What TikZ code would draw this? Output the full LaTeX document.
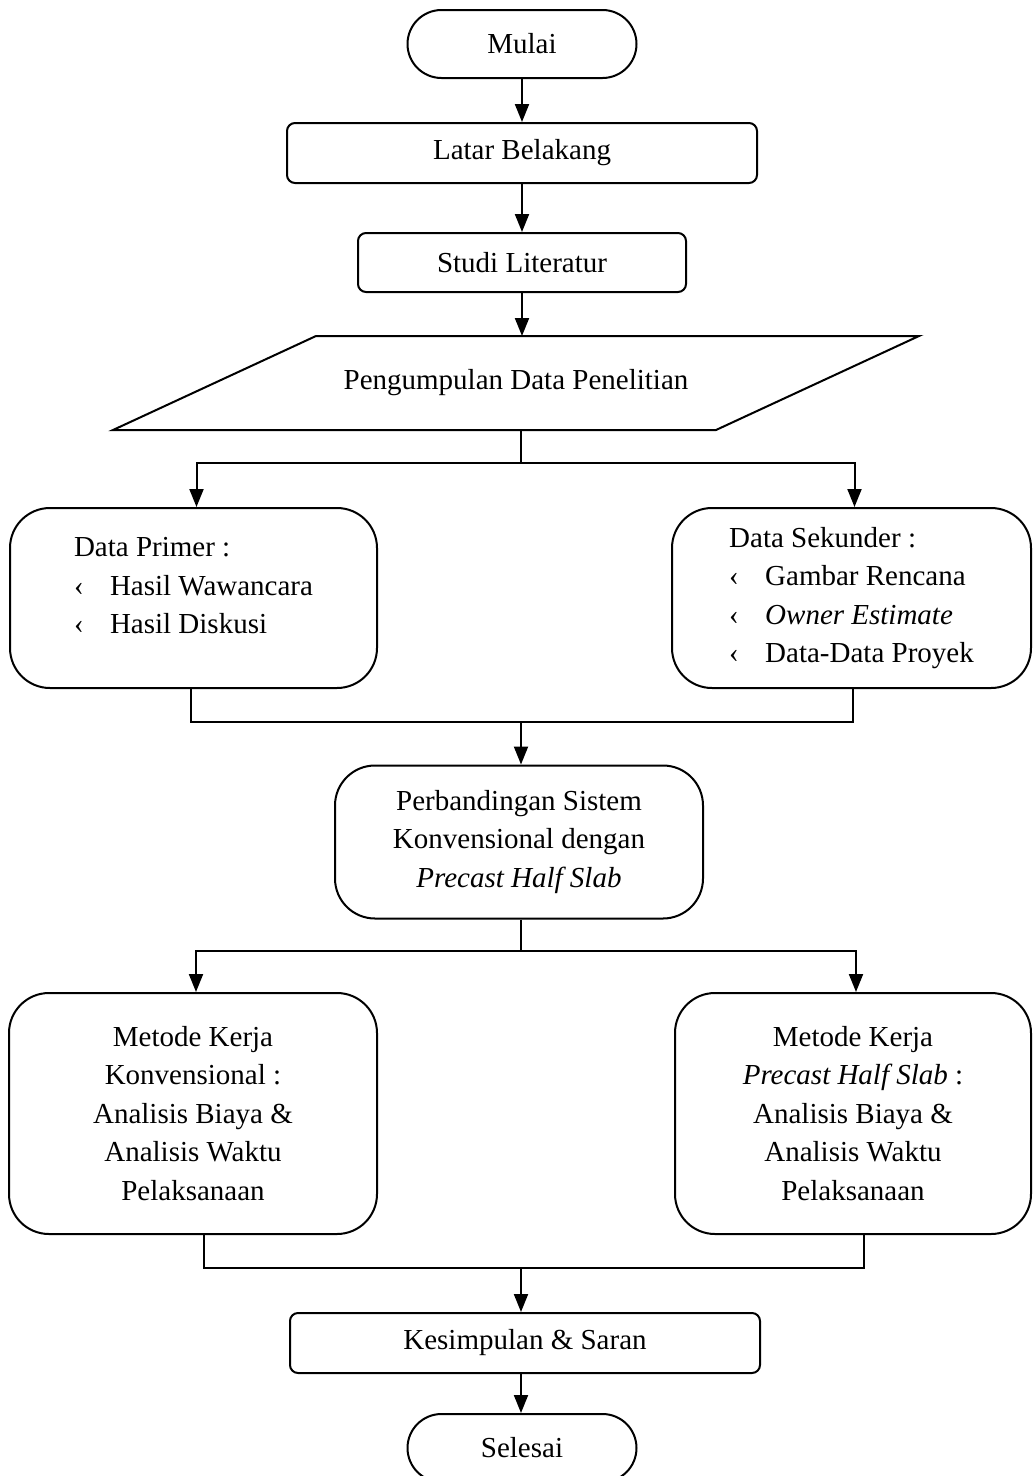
\documentclass[tikz,border=0pt]{standalone}
\usepackage{fontspec}
\setmainfont{Liberation Serif}
\usetikzlibrary{arrows.meta,shapes.misc}
\newcommand{\bul}{\makebox[36pt][l]{‹}}
\tikzset{
  arr/.style={-{Triangle[width=14pt,length=18pt]}},
  box/.style={draw, rounded corners=8pt, align=center, inner sep=0pt},
  bigbox/.style={draw, rounded corners=40pt, align=center, inner sep=0pt},
  term/.style={draw, rounded rectangle, inner sep=0pt, minimum width=229pt, minimum height=68pt},
  io/.style={inner sep=0pt, minimum width=804pt, minimum height=92pt}
}
\begin{document}
\begin{tikzpicture}[x=1pt,y=-1pt,line width=2pt,font=\fontsize{29}{38.5}\selectfont]
\useasboundingbox (0,0) rectangle (1033,1476);
\node[term] (mulai) at (522,44){Mulai};
\node[box, minimum width=470pt, minimum height=60pt] (latar) at (522,153){Latar Belakang};
\node[box, minimum width=328pt, minimum height=59pt] (studi) at (522,262.5){Studi Literatur};
\node[io] (kumpul) at (516,383){Pengumpulan Data Penelitian};
\draw[](kumpul.south west) -- ([xshift=203pt]kumpul.north west) -- (kumpul.north east) -- ([xshift=-203pt]kumpul.south east) -- cycle;
\node[bigbox, align=left, minimum width=367pt, minimum height=180pt] (primer) at (193.5,598){Data Primer :\\ \bul Hasil Wawancara\\ \bul Hasil Diskusi\\[-14pt] \mbox{}};
\node[bigbox, align=left, minimum width=359pt, minimum height=180pt] (sekunder) at (851.5,598){Data Sekunder :\\ \bul Gambar Rencana\\ \bul \textit{Owner Estimate}\\ \bul Data-Data Proyek};
\node[bigbox, minimum width=368pt, minimum height=153pt] (banding) at (519,842){Perbandingan Sistem\\ Konvensional dengan\\ \textit{Precast Half Slab}};
\node[bigbox, minimum width=368pt, minimum height=241pt] (konv) at (193,1113.5){Metode Kerja\\ Konvensional :\\ Analisis Biaya \&\\ Analisis Waktu\\ Pelaksanaan};
\node[bigbox, minimum width=356pt, minimum height=241pt] (precast) at (853,1113.5){Metode Kerja\\ \textit{Precast Half Slab} :\\ Analisis Biaya \&\\ Analisis Waktu\\ Pelaksanaan};
\node[box, minimum width=470pt, minimum height=60pt] (simpul) at (525,1343){Kesimpulan \& Saran};
\node[term] (selesai) at (522,1448){Selesai};
\coordinate (j1) at (521,463);
\coordinate (j2) at (521,722);
\coordinate (j3) at (521,951);
\coordinate (j4) at (521,1268);
\draw[arr](mulai) -- (latar);
\draw[arr](latar) -- (studi);
\draw[arr](studi) -- (studi |- kumpul.north);
\draw[](kumpul.south -| j1) -- (j1);
\draw[arr](j1) -| ([xshift=3pt]primer.north);
\draw[arr](j1) -| ([xshift=3pt]sekunder.north);
\draw[]([xshift=-3pt]primer.south) |- (j2);
\draw[]([xshift=1pt]sekunder.south) |- (j2);
\draw[arr](j2) -- (j2 |- banding.north);
\draw[](j2 |- banding.south) -- (j3);
\draw[arr](j3) -| ([xshift=3pt]konv.north);
\draw[arr](j3) -| ([xshift=3pt]precast.north);
\draw[]([xshift=11pt]konv.south) |- (j4);
\draw[]([xshift=11pt]precast.south) |- (j4);
\draw[arr](j4) -- (j4 |- simpul.north);
\draw[arr](j4 |- simpul.south) -- (j4 |- selesai.north);
\end{tikzpicture}
\end{document}
